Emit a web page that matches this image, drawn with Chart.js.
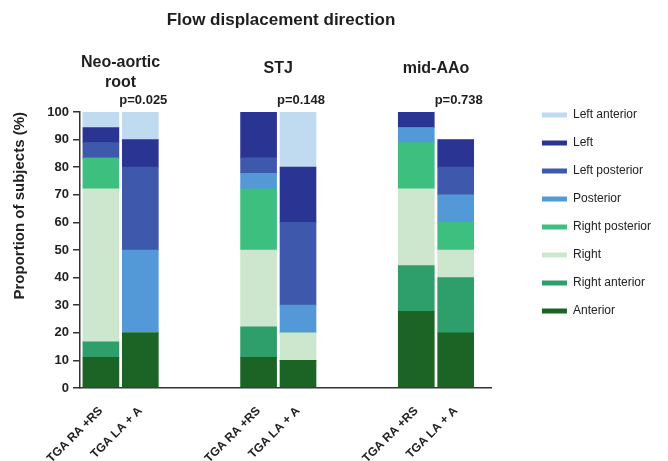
<!DOCTYPE html>
<html>
<head>
<meta charset="utf-8">
<script src="https://cdn.jsdelivr.net/npm/chart.js@4.4.1/dist/chart.umd.min.js"></script>
<style>
    html, body { margin: 0; padding: 0; background: #fff; }
    #wrap { width: 668px; height: 461px; }
</style>
</head>
<body>
<div id="wrap"><canvas id="flowChart"></canvas></div>
<script>
// bars: two per region, placed on slots of the x axis
const barLabels = ['TGA RA +RS', 'TGA LA + A', 'TGA RA +RS', 'TGA LA + A', 'TGA RA +RS', 'TGA LA + A'];
const barSlots = [0, 1, 4, 5, 8, 9];
const groupNames = [['Neo-aortic', 'root'], ['STJ'], ['mid-AAo']];
const pValues = ['p=0.025', 'p=0.148', 'p=0.738'];

// % of subjects, bottom segment first
const anterior       = [11.1, 20, 11.1, 10, 27.8, 20];
const rightAnterior  = [5.6, 0, 11.1, 0, 16.6, 20];
const right          = [55.5, 0, 27.8, 10, 27.8, 10];
const rightPosterior = [11.1, 0, 22.2, 0, 16.7, 10];
const posterior      = [0, 30, 5.6, 10, 5.5, 10];
const leftPosterior  = [5.6, 30, 5.6, 30, 0, 10];
const left           = [5.5, 10, 16.6, 20, 5.6, 10];
const leftAnterior   = [5.6, 10, 0, 20, 0, 0];

const FONT = '"Liberation Sans", Arial, sans-serif';
Chart.defaults.font.family = FONT;
Chart.defaults.color = '#222';

const toPoints = (vals) => vals.map((v, i) => ({ x: barSlots[i], y: v }));

const series = [
    ['Anterior', anterior, '#1b6426'],
    ['Right anterior', rightAnterior, '#2e9e6a'],
    ['Right', right, '#cde7cf'],
    ['Right posterior', rightPosterior, '#3dbf80'],
    ['Posterior', posterior, '#5399d7'],
    ['Left posterior', leftPosterior, '#3e58ab'],
    ['Left', left, '#2a3493'],
    ['Left anterior', leftAnterior, '#c0daf0'],
];

const LEGEND_EXTRA = 41;  // extra room taken by the legend box
const LEGEND_SHIFT = 34;  // how far its items move right

// widen the legend box and push its items right, leaving space after the plot
const legendGap = {
    id: 'legendGap',
    afterInit(chart) {
        const lg = chart.legend;
        const fit = lg.fit.bind(lg);
        lg.fit = function () {
            fit();
            this.width += LEGEND_EXTRA;
        };
    },
    afterLayout(chart) {
        chart.legend.left += LEGEND_SHIFT;
        chart.legend.right += LEGEND_SHIFT;
    },
};

const annotationText = {
    id: 'annotationText',
    afterDraw(chart) {
        const { ctx, chartArea, scales: { x } } = chart;
        ctx.save();
        ctx.fillStyle = '#1e1e1e';
        ctx.textAlign = 'center';
        ctx.textBaseline = 'middle';
        ctx.font = 'bold 17px ' + FONT;
        ctx.fillText('Flow displacement direction', (chartArea.left + chartArea.right) / 2 - 5, 20);
        groupNames.forEach((lines, i) => {
            const cx = x.getPixelForValue((barSlots[2 * i] + barSlots[2 * i + 1]) / 2);
            ctx.font = 'bold 16px ' + FONT;
            lines.forEach((line, j) => {
                ctx.fillText(line, cx, chartArea.top - 43 - (lines.length - 1) * 6 + j * 20);
            });
            ctx.font = 'bold 13px ' + FONT;
            ctx.fillText(pValues[i], x.getPixelForValue(barSlots[2 * i + 1]) + 3, chartArea.top - 12);
        });
        ctx.restore();
    }
};

new Chart(document.getElementById('flowChart'), {
    type: 'bar',
    data: {
        datasets: series.map(([name, vals, color]) => ({
            label: name,
            data: toPoints(vals),
            backgroundColor: color,
            borderColor: color,
            borderWidth: 0,
            barThickness: 36,
            xAxisID: 'x',
            yAxisID: 'y',
        })),
    },
    options: {
        responsive: true,
        maintainAspectRatio: false,
        animation: false,
        layout: {
            padding: { top: 93, right: 0, bottom: 0, left: 0 },
        },
        plugins: {
            tooltip: { enabled: false },
            legend: {
                position: 'right',
                align: 'start',
                reverse: true,
                labels: {
                    boxWidth: 25,
                    boxHeight: 5,
                    padding: 16,
                    color: '#222',
                    font: { size: 12 },
                },
            },
        },
        scales: {
            x: {
                type: 'linear',
                stacked: true,
                offset: false,
                min: -0.53,
                max: 9.92,
                grid: { display: false, offset: false },
                border: { display: true, color: '#333', width: 1.5 },
                ticks: {
                    stepSize: 1,
                    maxTicksLimit: 20,
                    autoSkip: false,
                    minRotation: 45,
                    maxRotation: 45,
                    padding: 8,
                    color: '#222',
                    font: { size: 12, weight: 'bold' },
                    callback: (v) => {
                        const k = barSlots.indexOf(v);
                        return k >= 0 ? barLabels[k] : '';
                    },
                },
                afterFit(s) { s.height = 73; },
            },
            xTop: {
                type: 'linear',
                position: 'top',
                min: 0,
                max: 1,
                grid: { display: false },
                border: { display: false },
                ticks: { display: false },
                afterFit(s) { s.height = 19; },
            },
            y: {
                stacked: true,
                min: 0,
                max: 100,
                ticks: {
                    stepSize: 10,
                    padding: 4,
                    color: '#222',
                    font: { size: 13, weight: 'bold' },
                },
                grid: {
                    display: true,
                    drawOnChartArea: false,
                    drawTicks: true,
                    tickLength: 7,
                    color: '#333',
                    lineWidth: 1.5,
                },
                border: { display: true, color: '#333', width: 1.5 },
                title: {
                    display: true,
                    text: 'Proportion of subjects (%)',
                    align: 'end',
                    color: '#222',
                    font: { size: 15, weight: 'bold' },
                    padding: { top: 11, bottom: 0 },
                },
                afterFit(s) { s.width = 80; },
            },
        },
    },
    plugins: [legendGap, annotationText],
});
</script>
</body>
</html>
